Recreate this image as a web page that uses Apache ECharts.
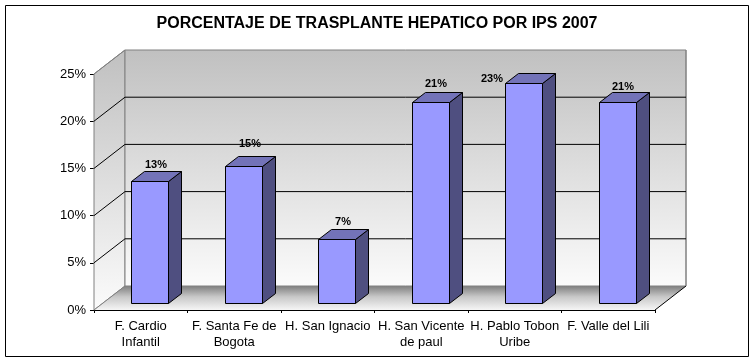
<!DOCTYPE html>
<html><head><meta charset="utf-8">
<style>html,body{margin:0;padding:0;background:#fff}#c{width:754px;height:361px}</style>
<script src="https://cdn.jsdelivr.net/npm/echarts@6/dist/echarts.min.js"></script></head>
<body><div id="c"></div>
<script>
var categories = ['F. Cardio\nInfantil','F. Santa Fe de\nBogota','H. San Ignacio','H. San Vicente\nde paul','H. Pablo Tobon\nUribe','F. Valle del Lili'];
var porcentajes = [12.9,14.5,6.8,21.3,23.3,21.3];
var etiquetas = ['13%','15%','7%','21%','23%','21%'];
var marcas = [0,5,10,15,20,25];

var DX=31, DY=-24;          // wall depth
var BX=13, BY=-10;          // bar depth
var OX=8.8, OY=-7;          // bar front-plane offset
var BW=37;
var LBL=[[6,-17],[6,-23],[6,-18],[5,-19],[-32,-5],[5,-16]];

var chart = echarts.init(document.getElementById('c'),null,{renderer:'canvas'});

function wallsItem(params,api){
  var v=api.value(0);
  var pL=api.coord([0,v]), w=api.size([1,0])[0]*6;
  var x=pL[0]-api.size([1,0])[0]/2, y=pL[1];
  var kids=[];
  if(v===0){
    var top=api.coord([0,25])[1];
    var grad=function(a,b){return new echarts.graphic.LinearGradient(0,0,0,1,[{offset:0,color:a},{offset:1,color:b}]);};
    var wallGrad=grad('#c0c0c0','#fbfbfb');
    kids.push({type:'polygon',shape:{points:[[x,top],[x+DX,top+DY],[x+DX,y+DY],[x,y]]},style:{fill:wallGrad,stroke:'#808080',lineWidth:1},silent:true});
    kids.push({type:'rect',shape:{x:x+DX,y:top+DY,width:w,height:y-top},style:{fill:wallGrad,stroke:'#808080',lineWidth:1},silent:true});
    kids.push({type:'polygon',shape:{points:[[x,y],[x+DX,y+DY],[x+DX+w,y+DY],[x+w,y]]},style:{fill:new echarts.graphic.LinearGradient(0,0,0,1,[{offset:0,color:'#7f7f7f'},{offset:0.45,color:'#c8c8c8'},{offset:1,color:'#f6f6f6'}]),stroke:null},silent:true});
    kids.push({type:'polyline',shape:{points:[[x+w,y],[x+DX+w,y+DY]]},style:{stroke:'#000',lineWidth:1,fill:null},silent:true});
    kids.push({type:'polyline',shape:{points:[[x+DX+w,y+DY],[x+DX+w,top+DY]]},style:{stroke:'#808080',lineWidth:1,fill:null},silent:true});
    kids.push({type:'polyline',shape:{points:[[x,y],[x+DX,y+DY]]},style:{stroke:'#808080',lineWidth:1,fill:null},silent:true});
  } else if(v<25){
    kids.push({type:'polyline',shape:{points:[[x,y],[x+DX,y+DY],[x+DX+w,y+DY]]},style:{stroke:'#000',lineWidth:1,fill:null},silent:true});
  } else {
    kids.push({type:'polyline',shape:{points:[[x,y],[x+DX,y+DY]]},style:{stroke:'#808080',lineWidth:1,fill:null},silent:true});
  }
  return {type:'group',children:kids};
}

function barItem(params,api){
  var i=api.value(0), v=api.value(1);
  var c=api.coord([i,v]), b=api.coord([i,0]);
  var x0=Math.round(c[0]+OX-BW/2)+0.5, x1=x0+BW, yt=Math.round(c[1]+OY)+0.5, yb=Math.round(b[1]+OY)+0.5;
  var ln={stroke:'#000',lineWidth:1,lineJoin:'miter'};
  var l=LBL[params.dataIndex];
  return {type:'group',children:[
    {type:'polygon',shape:{points:[[x1,yt],[x1+BX,yt+BY],[x1+BX,yb+BY],[x1,yb]]},style:Object.assign({fill:'#4f4f80'},ln)},
    {type:'polygon',shape:{points:[[x0,yt],[x0+BX,yt+BY],[x1+BX,yt+BY],[x1,yt]]},style:Object.assign({fill:'#7373b8'},ln)},
    {type:'rect',shape:{x:x0,y:yt,width:BW,height:yb-yt},style:Object.assign({fill:'#9999ff'},ln)},
    {type:'text',x:(x0+x1)/2+l[0],y:yt+l[1],style:{text:etiquetas[params.dataIndex],fill:'#000',font:'bold 11px "Liberation Sans"',textAlign:'center',textVerticalAlign:'middle'}}
  ]};
}

chart.setOption({
  animation:false,
  backgroundColor:'#fff',
  title:{text:'PORCENTAJE DE TRASPLANTE HEPATICO POR IPS 2007',left:372,top:11,textAlign:'center',
    textStyle:{fontFamily:'Liberation Sans',fontSize:16,fontWeight:'bold',color:'#000'}},
  graphic:[{type:'rect',z:-1,shape:{x:5.5,y:5.5,width:743,height:351},style:{fill:'#fff',stroke:'#000',lineWidth:1}}],
  grid:{left:94,right:99,top:74,bottom:51,containLabel:false},
  xAxis:{type:'category',data:categories,
    axisLine:{show:true,onZero:false,lineStyle:{color:'#000',width:1}},
    axisTick:{show:true,length:3,alignWithLabel:false,lineStyle:{color:'#000'}},
    axisLabel:{interval:0,fontFamily:'Liberation Sans',fontSize:13,color:'#000',lineHeight:16,margin:8},
    splitLine:{show:false}},
  yAxis:{type:'value',min:0,max:25,interval:5,
    axisLine:{show:true,lineStyle:{color:'#000',width:1}},
    axisTick:{show:true,length:4,lineStyle:{color:'#000'}},
    axisLabel:{formatter:'{value}%',fontFamily:'Liberation Sans',fontSize:13,color:'#000',margin:8},
    splitLine:{show:false}},
  series:[
    {type:'custom',z:1,silent:true,clip:false,renderItem:wallsItem,data:marcas.map(function(m){return [m];}),encode:{y:0}},
    {type:'custom',z:3,silent:true,clip:false,renderItem:barItem,data:porcentajes.map(function(p,i){return [i,p];}),encode:{x:0,y:1}}
  ]
});
</script></body></html>
